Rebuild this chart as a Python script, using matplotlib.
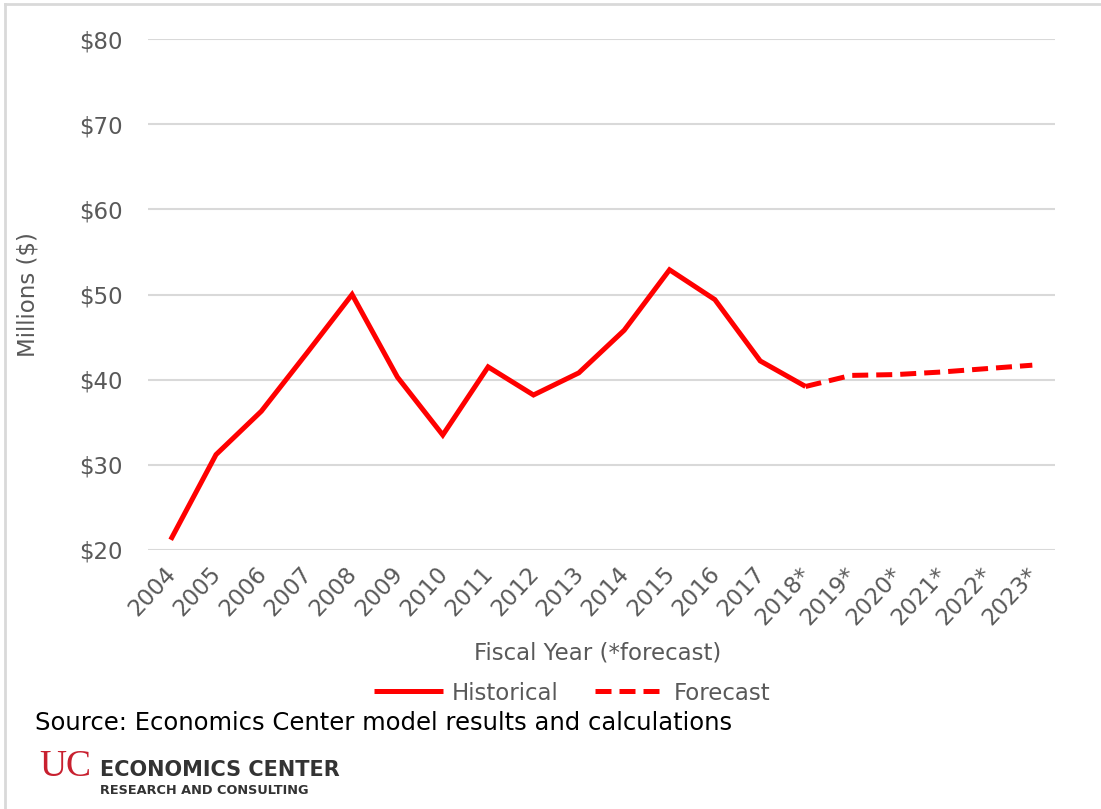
import matplotlib.pyplot as plt
import matplotlib.transforms as mtransforms
from matplotlib.lines import Line2D
import numpy as np

years = ['2004', '2005', '2006', '2007', '2008', '2009', '2010', '2011', '2012', '2013',
         '2014', '2015', '2016', '2017', '2018*', '2019*', '2020*', '2021*', '2022*', '2023*']
historical = [21.2, 31.2, 36.3, 43.1, 50.0, 40.3, 33.5, 41.5, 38.2, 40.8,
              45.8, 52.9, 49.4, 42.2, 39.2]
forecast = [39.2, 40.5, 40.6, 40.9, 41.3, 41.7]
yticks = [20, 30, 40, 50, 60, 70, 80]

grey = '#595959'
red = '#ff0000'
plt.rcParams['font.family'] = 'DejaVu Sans'
fs = 16.5

fig = plt.figure(figsize=(11.01, 8.09), dpi=100)
ax = fig.add_axes([148/1101, 1 - 550/809, (1055-148)/1101, (550-39)/809])

x = np.arange(len(years))
ax.plot(x[:len(historical)], historical, color=red, lw=3.6, label='Historical',
        solid_capstyle='butt', solid_joinstyle='miter')
ax.plot(x[len(historical)-1:], forecast, color=red, lw=3.6, ls=(0, (3.2, 1.6)), label='Forecast')

ax.set_xlim(-0.5, len(years) - 0.5)
ax.set_ylim(20, 80)
ax.set_yticks(yticks)
ax.set_yticklabels(['$' + str(v) for v in yticks])
ax.set_xticks(x)
ax.set_xticklabels(years, rotation=47, ha='right', rotation_mode='anchor')
ax.tick_params(axis='both', length=0, labelsize=fs, colors=grey)
ax.tick_params(axis='y', pad=18)
ax.tick_params(axis='x', pad=9)
shift = mtransforms.ScaledTranslation(-0.07, 0, fig.dpi_scale_trans)
for lab in ax.get_xticklabels():
    lab.set_transform(lab.get_transform() + shift)
ax.grid(axis='y', color='#d9d9d9', lw=1.5)
ax.set_axisbelow(True)
for s in ax.spines.values():
    s.set_visible(False)

ax.set_ylabel('Millions ($)', fontsize=fs, color=grey)
ax.yaxis.set_label_coords((40 - 148) / (1055 - 148), 0.5)
ax.set_xlabel('Fiscal Year (*forecast)', fontsize=fs, color=grey)
ax.xaxis.set_label_coords((598 - 148) / (1055 - 148), -(641 - 550) / (550 - 39))

leg = fig.legend(loc='center', bbox_to_anchor=(572/1101, 1 - 693/809), ncol=2, frameon=False,
                 fontsize=fs, handlelength=3.0, columnspacing=1.6, handletextpad=0.4)
for t in leg.get_texts():
    t.set_color(grey)

fig.text(35/1101, 1 - 723/809, 'Source: Economics Center model results and calculations',
         fontsize=17.5, color='black', va='center')

# logo
fig.text(39/1101, 1 - 767/809, 'UC', fontsize=27, color='#c8202f', family='Liberation Serif',
         va='center', ha='left')
fig.text(100/1101, 1 - 770/809, 'ECONOMICS CENTER', fontsize=15, fontweight='bold',
         color='#333333', va='center')
fig.text(100/1101, 1 - 791/809, 'RESEARCH AND CONSULTING', fontsize=9.3, fontweight='bold',
         color='#333333', va='center')

# frame lines at top and left
fig.add_artist(Line2D([5/1101, 1], [1 - 4/809, 1 - 4/809], color='#d9d9d9', lw=2))
fig.add_artist(Line2D([5/1101, 5/1101], [0, 1 - 4/809], color='#d9d9d9', lw=2))

fig.savefig('out.png', dpi=100)
